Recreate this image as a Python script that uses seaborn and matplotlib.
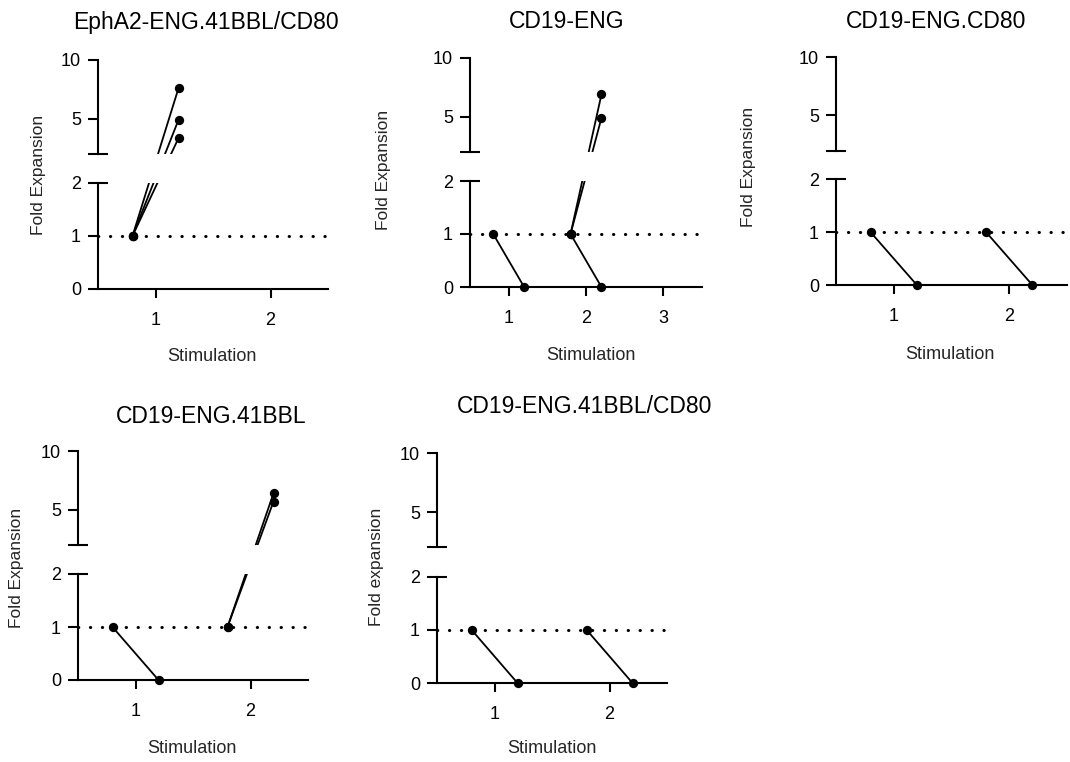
import numpy as np
import pandas as pd
import matplotlib
matplotlib.use("Agg")
import matplotlib.pyplot as plt
import seaborn as sns

sns.set_style("ticks")
plt.rcParams["font.family"] = ["Liberation Sans", "DejaVu Sans"]

# ---------------- data ----------------
titles = ["EphA2-ENG.41BBL/CD80", "CD19-ENG", "CD19-ENG.CD80",
          "CD19-ENG.41BBL", "CD19-ENG.41BBL/CD80"]
ylabels = ["Fold Expansion", "Fold Expansion", "Fold Expansion",
           "Fold Expansion", "Fold expansion"]
xlabel = "Stimulation"

start_value = 1.0  # fold expansion at the start of each stimulation

epha2_stim = [1, 1, 1]
epha2_end = [7.6, 4.9, 3.35]

cd19_stim = [1, 2, 2, 2]
cd19_end = [0.0, 6.9, 4.9, 0.0]

cd19_cd80_stim = [1, 2]
cd19_cd80_end = [0.0, 0.0]

cd19_41bbl_stim = [1, 2, 2]
cd19_41bbl_end = [0.0, 6.4, 5.7]

cd19_41bbl_cd80_stim = [1, 2]
cd19_41bbl_cd80_end = [0.0, 0.0]

stims = [epha2_stim, cd19_stim, cd19_cd80_stim, cd19_41bbl_stim, cd19_41bbl_cd80_stim]
ends = [epha2_end, cd19_end, cd19_cd80_end, cd19_41bbl_end, cd19_41bbl_cd80_end]
n_stim_ticks = [2, 3, 2, 2, 2]

y_major = [0, 1, 5, 10]
y_major_labels = ["0", "1", "5", "10"]
break_low = 2.0          # top of lower segment
break_high = 2.0001      # bottom of upper segment
y_max = 10

# ---------------- layout (pixels of a 1070x762 canvas) ----------------
W, H = 1070, 762
# left(y-axis), right end, y of 0, y of 10
axes_px = [(98, 328, 289, 60), (470, 702, 287, 58), (836, 1067, 285, 57),
           (78, 308, 680, 451), (437, 667, 683, 453)]
title_px = [(206, 29), (567, 28), (936, 28), (211, 423), (585, 413)]
ylabel_px = [(38, 175), (384, 170), (748, 167), (17, 568), (377, 567)]
xlabel_px = [(212, 348), (591, 347), (950, 346), (192, 740), (552, 740)]

# broken-axis scale: lower segment 0..2, gap, upper segment 2..10
LOW_PX, GAP_PX, HIGH_PX = 53.0, 29.0, 11.75


def fwd(y):
    y = np.asarray(y, dtype=float)
    return np.where(y <= break_low, y * LOW_PX,
                    break_low * LOW_PX + GAP_PX + (y - break_low) * HIGH_PX)


def inv(s):
    s = np.asarray(s, dtype=float)
    lo = break_low * LOW_PX
    return np.where(s <= lo, s / LOW_PX,
                    np.where(s < lo + GAP_PX, break_low,
                             break_low + (s - lo - GAP_PX) / HIGH_PX))


fig = plt.figure(figsize=(W / 100, H / 100), dpi=100)

OFFSET = 0.2  # before/after points drawn either side of each stimulation

for i in range(5):
    l, r, y0, y10 = axes_px[i]
    ax = fig.add_axes([l / W, 1 - y0 / H, (r - l) / W, (y0 - y10) / H])

    rows = []
    for rep, (s, e) in enumerate(zip(stims[i], ends[i])):
        rows.append({"x": s - OFFSET, "fold": start_value, "rep": rep})
        rows.append({"x": s + OFFSET, "fold": e, "rep": rep})
    df = pd.DataFrame(rows)

    ax.set_yscale("function", functions=(fwd, inv))

    sns.lineplot(data=df, x="x", y="fold", units="rep", estimator=None, sort=False,
                 color="black", linewidth=1.3, ax=ax, legend=False, zorder=2)
    sns.scatterplot(data=df, x="x", y="fold", color="black", s=45, linewidth=0,
                    ax=ax, legend=False, zorder=3, clip_on=False)

    # dotted reference line at 1
    ax.axhline(start_value, color="black", linewidth=2.2,
               linestyle=(0, (0.1, 3.8)), dash_capstyle="round", zorder=1.8)

    # hide the gap of the broken axis
    ax.axhspan(break_low, break_high, facecolor="white", edgecolor="none",
               linewidth=0, zorder=2.3)

    ax.set_xlim(0.5, n_stim_ticks[i] + 0.5)
    ax.set_ylim(0, y_max)

    ax.set_xticks(list(range(1, n_stim_ticks[i] + 1)),
                  labels=[str(k) for k in range(1, n_stim_ticks[i] + 1)])
    ax.set_yticks(y_major, labels=y_major_labels)
    ax.set_yticks([break_low, break_high], labels=["2", ""], minor=True)
    ax.xaxis.set_minor_locator(matplotlib.ticker.NullLocator())

    ax.tick_params(axis="both", which="major", direction="out", width=1.5,
                   color="black", labelcolor="black", labelsize=13)
    ax.tick_params(axis="y", which="major", length=7.2, pad=5)
    ax.tick_params(axis="x", which="major", length=6.5, pad=10)
    ax.tick_params(axis="y", which="minor", direction="inout", length=15,
                   width=1.5, color="black", labelcolor="black", labelsize=13, pad=5)
    ax.set_axisbelow(False)

    for side in ["top", "right"]:
        ax.spines[side].set_visible(False)
    ax.spines["left"].set_bounds(0, break_low)
    for side in ["left", "bottom"]:
        ax.spines[side].set_linewidth(1.5)
        ax.spines[side].set_color("black")
    # upper segment of the broken y axis
    ax.plot([0, 0], [break_high, y_max], transform=ax.get_yaxis_transform(),
            color="black", linewidth=1.5, solid_capstyle="projecting",
            clip_on=False, zorder=2.5)

    ax.set_xlabel(xlabel, fontsize=13, va="top", ha="center")
    ax.xaxis.set_label_coords(xlabel_px[i][0] / W, 1 - xlabel_px[i][1] / H,
                              transform=fig.transFigure)
    ax.set_ylabel(ylabels[i], fontsize=12.5, va="center", ha="center")
    ax.yaxis.set_label_coords(ylabel_px[i][0] / W, 1 - ylabel_px[i][1] / H,
                              transform=fig.transFigure)

    fig.text(title_px[i][0] / W, 1 - title_px[i][1] / H, titles[i],
             fontsize=16.5, ha="center", va="baseline", color="black")

fig.savefig("out.png", dpi=100, facecolor="white")
